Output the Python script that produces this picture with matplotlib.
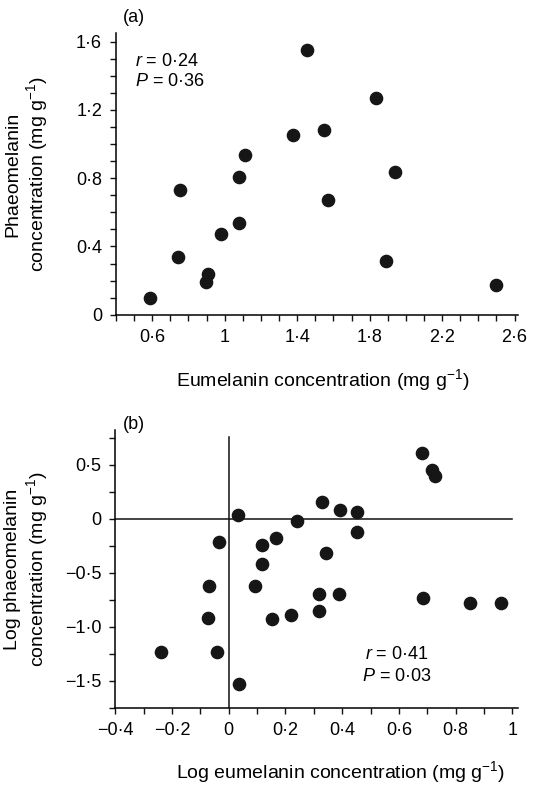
import matplotlib
matplotlib.use("Agg")
import matplotlib.pyplot as plt
import numpy as np

plt.rcParams['font.family'] = ['Liberation Sans', 'DejaVu Sans']
plt.rcParams['mathtext.fontset'] = 'custom'
plt.rcParams['mathtext.rm'] = 'Liberation Sans'
plt.rcParams['mathtext.it'] = 'Liberation Sans:italic'

# panel (a): raw concentrations
eu_a = [1.457, 1.835, 1.549, 1.377, 1.113, 1.080, 1.939, 0.756, 1.569,
        1.080, 0.977, 0.745, 0.909, 0.897, 0.590, 1.889, 2.497]
ph_a = [1.548, 1.271, 1.082, 1.051, 0.938, 0.805, 0.836, 0.729, 0.671,
        0.538, 0.472, 0.339, 0.240, 0.193, 0.096, 0.316, 0.172]

# panel (b): log concentrations
eu_b = [0.680, 0.718, 0.726, 0.330, 0.394, 0.453, 0.032, 0.239, 0.453,
        -0.035, 0.118, 0.166, 0.344, 0.117, -0.071, 0.091, 0.318, 0.388,
        0.686, 0.850, 0.959, 0.318, 0.220, 0.151, -0.072, -0.240, -0.040, 0.037]
ph_b = [0.605, 0.447, 0.392, 0.151, 0.083, 0.065, 0.031, -0.021, -0.127,
        -0.213, -0.247, -0.176, -0.315, -0.420, -0.627, -0.627, -0.697, -0.697,
        -0.731, -0.784, -0.784, -0.852, -0.889, -0.926, -0.923, -1.238, -1.238, -1.531]

xt_a = [0.6, 1.0, 1.4, 1.8, 2.2, 2.6]
xl_a = ['0·6', '1', '1·4', '1·8', '2·2', '2·6']
yt_a = [0, 0.4, 0.8, 1.2, 1.6]
yl_a = ['0', '0·4', '0·8', '1·2', '1·6']
xt_b = [-0.4, -0.2, 0, 0.2, 0.4, 0.6, 0.8, 1.0]
xl_b = ['−0·4', '−0·2', '0', '0·2', '0·4', '0·6', '0·8', '1']
yt_b = [-1.5, -1.0, -0.5, 0, 0.5]
yl_b = ['−1·5', '−1·0', '−0·5', '0', '0·5']

dot = '#161616'
fs_tick = 13
fs_lab = 14
fs_txt = 13

fig = plt.figure(figsize=(5.51, 7.85), dpi=100)
ax1 = fig.add_axes([0.2105, 0.599, 0.730, 0.359])
ax2 = fig.add_axes([0.2093, 0.0985, 0.7307, 0.3535])

for ax in (ax1, ax2):
    ax.spines['top'].set_visible(False)
    ax.spines['right'].set_visible(False)
    ax.spines['left'].set_linewidth(1.1)
    ax.spines['bottom'].set_linewidth(1.1)
    ax.tick_params(which='both', direction='out', length=4.5, width=1.0,
                   labelsize=fs_tick, color='#111111', pad=5.5)

# (a)
ax1.plot(eu_a, ph_a, 'o', color=dot, markersize=8.8, clip_on=False)
ax1.set_xlim(0.4, 2.62)
ax1.set_ylim(0, 1.65)
ax1.set_xticks(xt_a)
ax1.set_xticklabels(xl_a)
ax1.set_xticks(np.arange(0.4, 2.61, 0.1), minor=True)
ax1.set_yticks(yt_a)
ax1.set_yticklabels(yl_a)
ax1.set_yticks(np.arange(0, 1.61, 0.1), minor=True)
ax1.set_xlabel('Eumelanin concentration (mg g$^{-1}$)', fontsize=fs_lab)
ax1.xaxis.set_label_coords(0.515, -0.186)
ax1.set_ylabel('Phaeomelanin\nconcentration (mg g$^{-1}$)', fontsize=fs_lab,
               linespacing=1.15)
ax1.yaxis.set_label_coords(-0.164, 0.5)
ax1.text(0.507, 1.484, '$r$ = 0·24', fontsize=fs_txt, va='center', ha='left')
ax1.text(0.507, 1.367, '$P$ = 0·36', fontsize=fs_txt, va='center', ha='left')
fig.text(0.2227, 0.978, '(a)', fontsize=fs_txt, va='center', ha='left')

# (b)
ax2.axhline(0, color='#111111', linewidth=1.1, xmax=0.985)
ax2.plot([0, 0], [-1.75, 0.756], color='#111111', linewidth=1.1)
ax2.plot(eu_b, ph_b, 'o', color=dot, markersize=8.8, clip_on=False)
ax2.set_xlim(-0.4, 1.02)
ax2.set_ylim(-1.75, 0.82)
ax2.set_xticks(xt_b)
ax2.set_xticklabels(xl_b)
ax2.set_xticks(np.arange(-0.4, 1.01, 0.1), minor=True)
ax2.set_yticks(yt_b)
ax2.set_yticklabels(yl_b)
ax2.set_yticks(np.arange(-1.75, 0.76, 0.25), minor=True)
ax2.set_xlabel('Log eumelanin concentration (mg g$^{-1}$)', fontsize=fs_lab)
ax2.xaxis.set_label_coords(0.56, -0.185)
ax2.set_ylabel('Log phaeomelanin\nconcentration (mg g$^{-1}$)', fontsize=fs_lab,
               linespacing=1.15)
ax2.yaxis.set_label_coords(-0.162, 0.5)
ax2.text(0.592, -1.259, '$r$ = 0·41', fontsize=fs_txt, va='center', ha='center')
ax2.text(0.592, -1.463, '$P$ = 0·03', fontsize=fs_txt, va='center', ha='center')
fig.text(0.2227, 0.4586, '(b)', fontsize=fs_txt, va='center', ha='left')

fig.savefig('out.png', dpi=100)
